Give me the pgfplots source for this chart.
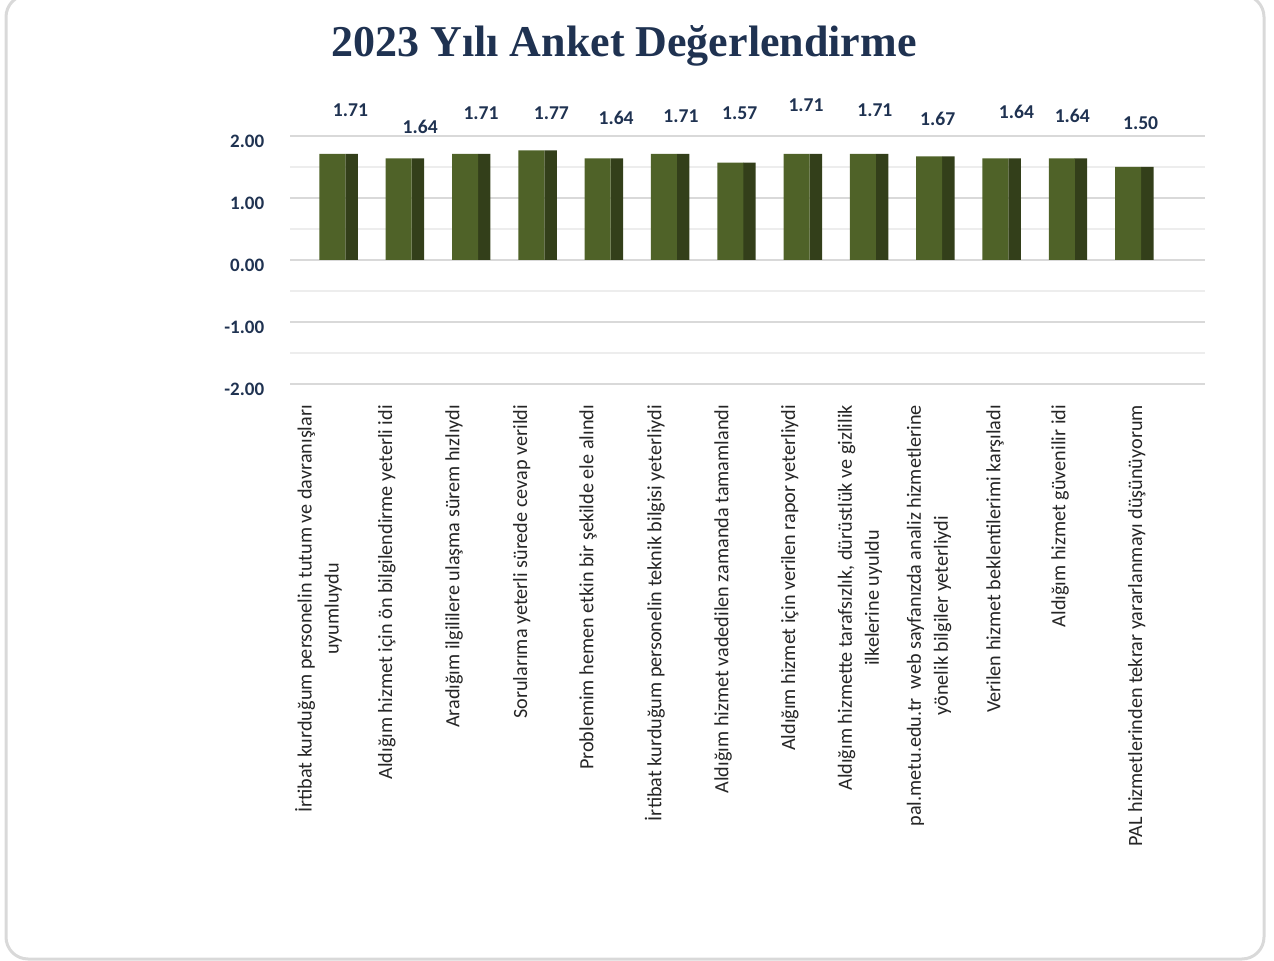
\documentclass[border=0pt]{standalone}
\usepackage{pgfplots}
\usepackage{pgfplotstable}
\pgfplotsset{compat=1.18}
\usepackage{fontspec}
\setmainfont{Carlito}
\newfontfamily\titlefont{Liberation Serif}
\definecolor{navy}{HTML}{1F3251}
\definecolor{barfront}{HTML}{4F6228}
\definecolor{barside}{HTML}{333F1A}
\definecolor{gridmaj}{HTML}{D9D9D9}
\definecolor{gridmin}{HTML}{EDEDED}
\definecolor{framec}{HTML}{D9D9D9}

\pgfplotstableread{
x y dx dy
0 1.71 9 22
1 1.64 10.75 15.65
2 1.71 8 20.15
3 1.77 10 18.3
4 1.64 9.25 20.15
5 1.71 8.5 19
6 1.57 4.75 24.5
7 1.71 4.75 24.5
8 1.71 6 22
9 1.67 4.25 18.6
10 1.64 10.5 23.15
11 1.64 5.25 21.4
12 1.50 6.25 21.85
}\datatable

\begin{document}
\begin{tikzpicture}
\useasboundingbox (0,0) rectangle (637pt,-480.5pt);
\draw[framec, line width=1.5pt, rounded corners=11pt] (3pt,2.5pt) rectangle (632pt,-479.5pt);
\node[font=\titlefont\bfseries\fontsize{22}{26}\selectfont, text=navy, anchor=base] at (312pt,-28.5pt) {2023 Yılı Anket Değerlendirme};
\begin{axis}[
  at={(145pt,-68pt)}, anchor=north west,
  scale only axis, width=457.5pt, height=124pt,
  xmin=-0.64, xmax=13.16, ymin=-2, ymax=2,
  axis line style={draw=none},
  major tick length=0pt, minor tick length=0pt,
  ytick={-2,-1,0,1,2},
  yticklabels={-2.00,-1.00,0.00,1.00,2.00},
  minor ytick={-1.5,-0.5,0.5,1.5},
  ymajorgrids, yminorgrids,
  major grid style={gridmaj, line width=0.9pt},
  minor grid style={gridmin, line width=0.9pt},
  yticklabel style={font=\bfseries\fontsize{9.5}{11}\selectfont, text=navy, xshift=-9.4pt, yshift=-2.5pt},
  xtick={-0.211,0.822,1.833,2.854,3.854,4.864,5.890,6.900,7.956,8.997,9.992,10.973,12.130},
  xticklabels={
    {İrtibat kurduğum personelin tutum ve davranışları\\uyumluydu},
    {Aldığım hizmet için ön bilgilendirme yeterli idi},
    {Aradığım ilgililere ulaşma sürem hızlıydı},
    {Sorularıma yeterli sürede cevap verildi},
    {Problemim hemen etkin bir şekilde ele alındı},
    {İrtibat kurduğum personelin teknik bilgisi yeterliydi},
    {Aldığım hizmet vadedilen zamanda tamamlandı},
    {Aldığım hizmet için verilen rapor yeterliydi},
    {Aldığım hizmette tarafsızlık, dürüstlük ve gizlilik\\ilkelerine uyuldu},
    {pal.metu.edu.tr\ \ web sayfanızda analiz hizmetlerine\\yönelik bilgiler yeterliydi},
    {Verilen hizmet beklentilerimi karşıladı},
    {Aldığım hizmet güvenilir idi},
    {PAL hizmetlerinden tekrar yararlanmayı düşünüyorum}
  },
  xticklabel style={font=\fontsize{10.1}{13.5}\selectfont, text=black!85, align=center, yshift=-7pt, rotate=90, anchor=east},
  clip=false,
]
\addplot[ybar, bar width=6.25pt, bar shift=9.6pt, fill=barside, draw=none] table[x=x,y=y]{\datatable};
\addplot[ybar, bar width=13pt, bar shift=0pt, fill=barfront, draw=none,
  visualization depends on={\thisrow{dx} \as \dx},
  visualization depends on={\thisrow{dy} \as \dy},
  nodes near coords={\pgfmathprintnumber[fixed,fixed zerofill,precision=2,assume math mode=true]{\pgfplotspointmeta}},
  nodes near coords style={anchor=center, xshift=\dx pt, yshift=\dy pt, font=\bfseries\fontsize{9.8}{11}\selectfont, text=navy}
] table[x=x,y=y]{\datatable};
\end{axis}
\end{tikzpicture}
\end{document}
